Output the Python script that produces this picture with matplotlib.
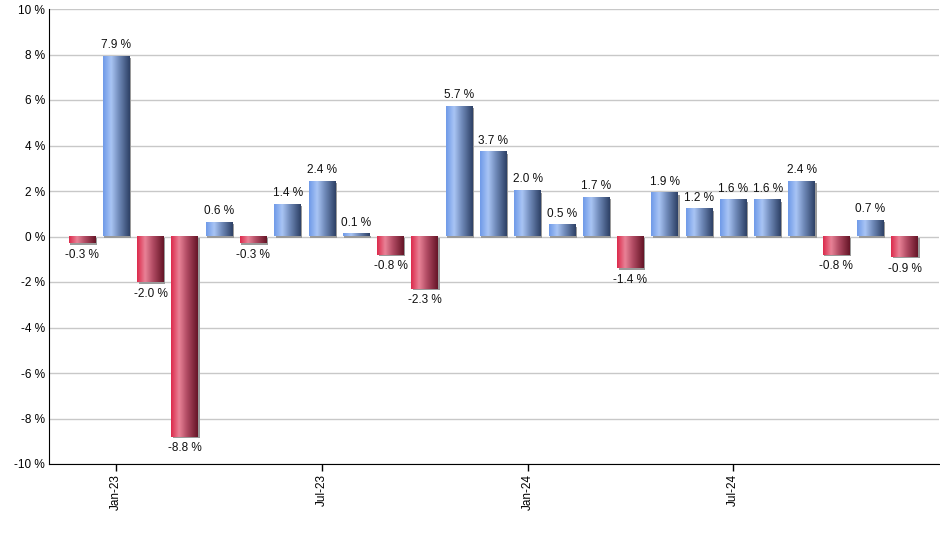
import matplotlib
matplotlib.use("Agg")
import matplotlib.pyplot as plt
import numpy as np
from matplotlib.colors import LinearSegmentedColormap
from matplotlib.patches import Rectangle
from matplotlib import transforms

months = ["Dec-22", "Jan-23", "Feb-23", "Mar-23", "Apr-23", "May-23", "Jun-23", "Jul-23",
          "Aug-23", "Sep-23", "Oct-23", "Nov-23", "Dec-23", "Jan-24", "Feb-24", "Mar-24",
          "Apr-24", "May-24", "Jun-24", "Jul-24", "Aug-24", "Sep-24", "Oct-24", "Nov-24", "Dec-24"]
values = [-0.3, 7.9, -2.0, -8.8, 0.6, -0.3, 1.4, 2.4, 0.1, -0.8, -2.3, 5.7, 3.7, 2.0, 0.5,
          1.7, -1.4, 1.9, 1.2, 1.6, 1.6, 2.4, -0.8, 0.7, -0.9]
tick_labels = ["Jan-23", "Jul-23", "Jan-24", "Jul-24"]
yticks = [-10, -8, -6, -4, -2, 0, 2, 4, 6, 8, 10]

plt.rcParams['font.family'] = ['Liberation Sans', 'DejaVu Sans']

fig = plt.figure(figsize=(9.4, 5.5), dpi=100)
ax = fig.add_axes([49/940, 1 - 464/550, 890/940, 455/550])

blue_cmap = LinearSegmentedColormap.from_list(
    "b", [(0, "#6f9ae8"), (0.3, "#a9c5f5"), (0.6, "#6f89b8"), (1, "#2e4166")])
red_cmap = LinearSegmentedColormap.from_list(
    "r", [(0, "#dc2a4c"), (0.3, "#e98397"), (0.6, "#b04a62"), (1, "#661527")])
grad = np.linspace(0, 1, 64).reshape(1, -1)

x = np.arange(len(values))
width = 0.78
ax.set_xlim(-0.96, len(values) - 0.0)
ax.set_ylim(-10, 10)

shadow_tr = transforms.offset_copy(ax.transData, fig=fig, x=1.5, y=-1.5, units='dots')
for xi, v in zip(x, values):
    x0, x1 = xi - width/2, xi + width/2
    y0, y1 = min(0, v), max(0, v)
    sh = Rectangle((x0, y0), width, y1 - y0, transform=shadow_tr,
                   facecolor="#9a9a9a", edgecolor="none", zorder=2)
    ax.add_patch(sh)
    cmap = blue_cmap if v >= 0 else red_cmap
    ax.imshow(grad, cmap=cmap, extent=(x0, x1, y0, y1), aspect='auto',
              interpolation='bicubic', zorder=3)
    if v >= 0:
        ax.annotate(f"{v:.1f} %", (xi, v), xytext=(0, 4), textcoords='offset points',
                    ha='center', va='bottom', fontsize=8.5, color="#111111")
    else:
        ax.annotate(f"{v:.1f} %", (xi, v), xytext=(0, -4), textcoords='offset points',
                    ha='center', va='top', fontsize=8.5, color="#111111")

ax.set_xlim(-0.96, len(values) - 0.0)
ax.set_ylim(-10, 10)

ax.set_yticks(yticks)
ax.set_yticklabels([f"{t} %" for t in yticks], fontsize=8.5)
ax.tick_params(axis='y', length=0, pad=3)
ax.yaxis.grid(True, color="#c8c8c8", linewidth=1)
ax.set_axisbelow(True)

tick_pos = [months.index(t) for t in tick_labels]
ax.set_xticks(tick_pos)
ax.set_xticklabels(tick_labels, rotation=90, fontsize=8.5)
ax.tick_params(axis='x', length=5, width=1, direction='out', pad=2)

for s in ['top', 'right']:
    ax.spines[s].set_visible(False)
ax.spines['left'].set_color('black')
ax.spines['bottom'].set_color('black')

fig.savefig("out.png", dpi=100)
